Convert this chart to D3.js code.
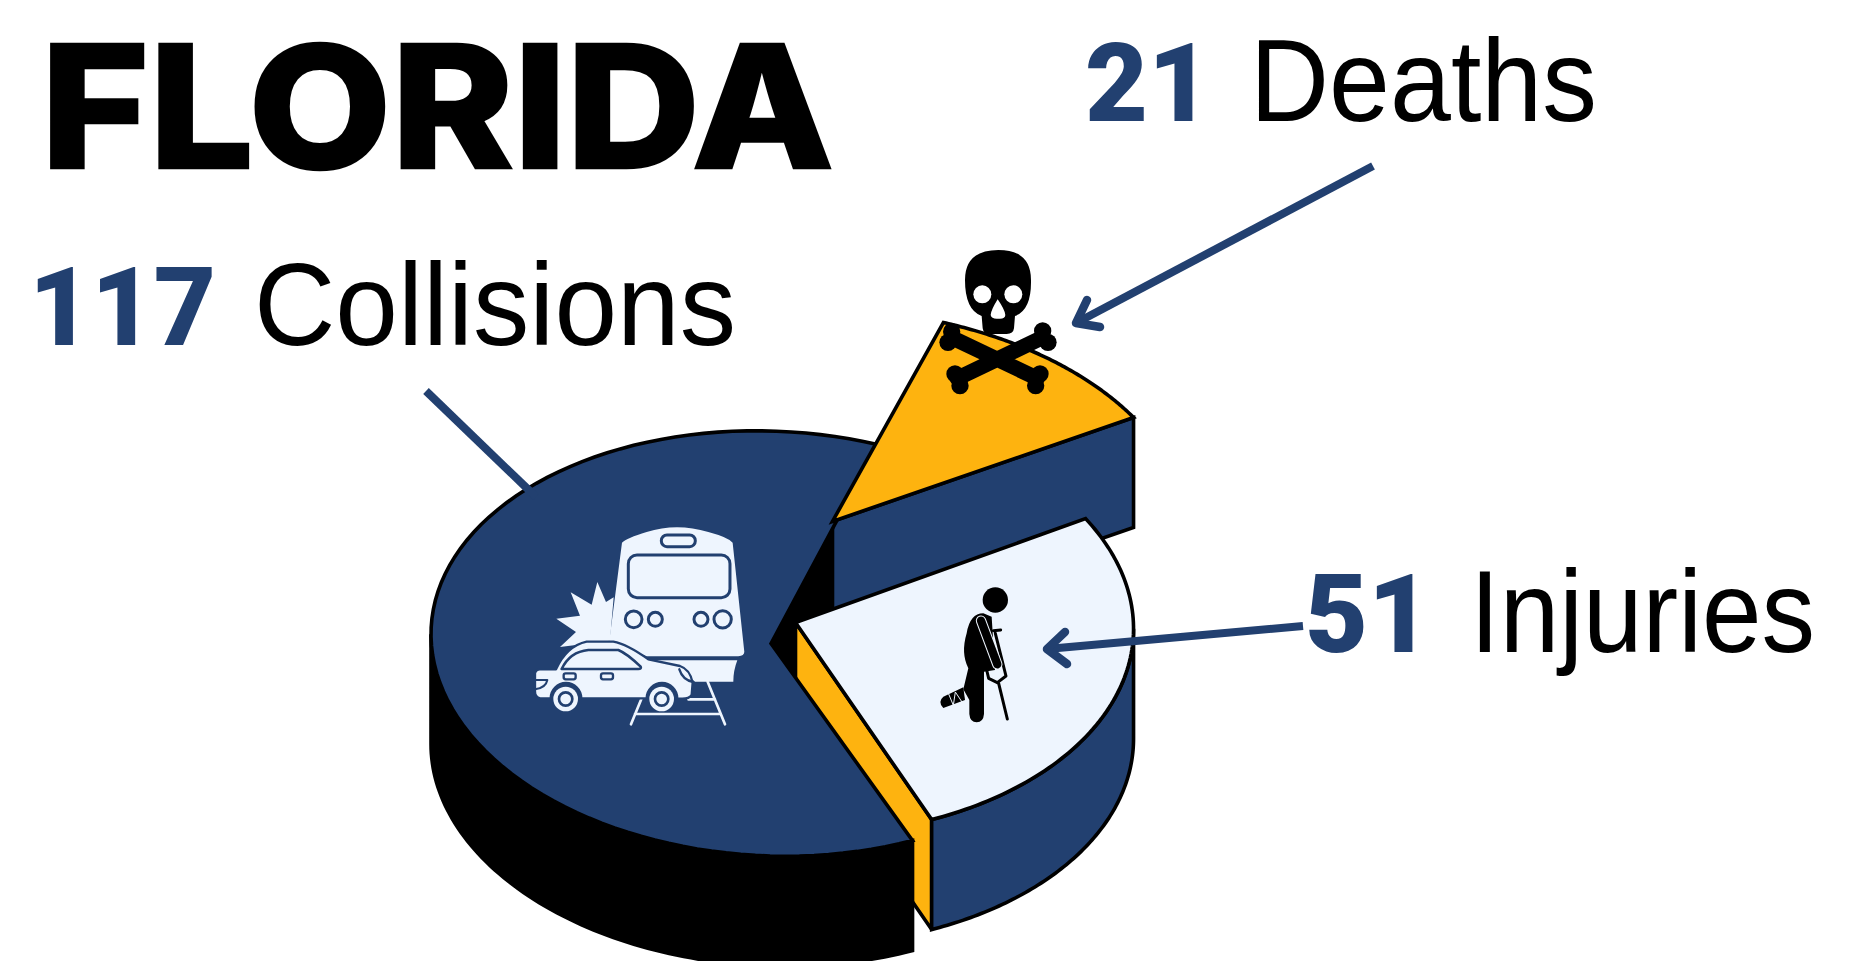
<!DOCTYPE html>
<html>
<head>
<meta charset="utf-8">
<style>
  html, body { margin: 0; padding: 0; background: #fff; overflow: hidden; }
  svg { display: block; }
</style>
<script src="https://cdn.jsdelivr.net/npm/d3@7"></script>
</head>
<body>
<div id="root"></div>
<script>
const title = 'FLORIDA'
const categories = ['Collisions', 'Deaths', 'Injuries']
const counts = [117, 21, 51]

const NAVY = '#224070'
const GOLD = '#FEB30F'
const PALE = '#EEF5FE'
const rad = deg => deg * Math.PI / 180
const TAU = Math.PI * 2

const width = 1867
const height = 961
const depth = 110
const ry = 212.5
const shear = 9.3
const firstAngle = rad(65.4)

// where each slice sits after being pulled out of the pie
const slices = {
  Collisions: { cx: 771, cy: 643.5, rx: 340, lean: 0 },
  Deaths: { cx: 832.5, cy: 521.4, rx: 354, lean: 0 },
  Injuries: { cx: 795.5, cy: 622.5, rx: 338, lean: -5 }
}

const labelBoxes = {
  Collisions: { numX: 29, numW: 187, numY: 345, textX: 254, textW: 482, textY: 345 },
  Deaths: { numX: 1085, numW: 126, numY: 121, textX: 1250, textW: 347, textY: 121 },
  Injuries: { numX: 1305, numW: 126, numY: 651.5, textX: 1470, textW: 345, textY: 651.5 }
}

const svg = d3.select('#root').append('svg')
  .attr('width', width)
  .attr('height', height)
  .attr('viewBox', `0 0 ${width} ${height}`)

const pie = d3.pie()
  .sort(null)
  .startAngle(firstAngle)
  .endAngle(firstAngle + TAU)

const arcs = pie(counts)
const arcOf = name => arcs[categories.indexOf(name)]

// tilted disc: pie angle -> screen position, z pushes down the side of the slice
function project(name, t, z = 0) {
  const s = slices[name]
  return [
    s.cx + s.rx * Math.cos(t) + s.lean * Math.sin(t),
    s.cy + shear * Math.cos(t) + ry * Math.sin(t) + z
  ]
}

function rim(name, from, to, z = 0) {
  const steps = 90
  return d3.range(steps + 1).map(i => project(name, from + (to - from) * i / steps, z))
}

function centre(name, z = 0) {
  return [slices[name].cx, slices[name].cy + z]
}

const outline = d3.line().curve(d3.curveLinear)

function shape(points, fill) {
  return svg.append('path')
    .attr('d', outline(points) + 'Z')
    .attr('fill', fill)
    .attr('stroke', '#000')
    .attr('stroke-width', 3.6)
    .attr('stroke-miterlimit', 3)
}

function topFace(name, fill) {
  const a = arcOf(name)
  return shape([centre(name), ...rim(name, a.startAngle, a.endAngle)], fill)
}

function cutWall(name, t, fill) {
  return shape([
    centre(name),
    project(name, t),
    project(name, t, depth),
    centre(name, depth)
  ], fill)
}

function outerWall(name, from, to, fill) {
  return shape([...rim(name, from, to), ...rim(name, to, from, depth)], fill)
}

const collisions = arcOf('Collisions')
const deaths = arcOf('Deaths')
const injuries = arcOf('Injuries')

// the wall starts at the disc's rightmost point so its edge stays vertical
const rightmost = TAU + Math.atan2(slices.Injuries.lean, slices.Injuries.rx)

cutWall('Collisions', collisions.endAngle, '#000')
cutWall('Deaths', deaths.endAngle, NAVY)
cutWall('Injuries', injuries.endAngle - TAU, GOLD)
outerWall('Collisions', collisions.startAngle, Math.PI, '#000')
topFace('Collisions', NAVY)
topFace('Deaths', GOLD)
outerWall('Injuries', rightmost, injuries.endAngle, NAVY)
topFace('Injuries', PALE)

// ---- leader arrows ----
function leader(from, to, barbs) {
  const g = svg.append('g')
    .attr('fill', 'none')
    .attr('stroke', NAVY)
    .attr('stroke-width', 8)
  g.append('line')
    .attr('x1', from[0]).attr('y1', from[1])
    .attr('x2', to[0]).attr('y2', to[1])
  if (barbs) {
    g.append('path')
      .attr('d', outline([barbs[0], to, barbs[1]]))
      .attr('stroke-width', 8.5)
      .attr('stroke-linecap', 'round')
      .attr('stroke-linejoin', 'round')
  }
}

leader([426, 391], [536, 497])
leader([1373, 166], [1076, 323], [[1087, 300], [1100, 327]])
leader([1303, 626], [1047, 649], [[1065, 632], [1067, 664]])

// ---- titles and labels ----
svg.append('text')
  .attr('x', 41)
  .attr('y', 167.5)
  .style('font-family', 'Inter')
  .style('font-size', '170px')
  .style('font-weight', 800)
  .attr('stroke', '#000')
  .attr('stroke-width', 2.5)
  .attr('textLength', 793)
  .attr('lengthAdjust', 'spacingAndGlyphs')
  .text(title)

categories.forEach((name, i) => {
  const box = labelBoxes[name]
  svg.append('text')
    .attr('x', box.numX)
    .attr('y', box.numY)
    .style('font-family', 'Roboto')
    .style('font-size', '110px')
    .style('font-weight', 900)
    .attr('fill', NAVY)
    .attr('textLength', box.numW)
    .attr('lengthAdjust', 'spacingAndGlyphs')
    .text(counts[i])
  svg.append('text')
    .attr('x', box.textX)
    .attr('y', box.textY)
    .style('font-family', '"Liberation Sans"')
    .style('font-size', '117px')
    .attr('textLength', box.textW)
    .attr('lengthAdjust', 'spacingAndGlyphs')
    .text(name)
})

// ---- icons, drawn in their own small coordinate space ----
function iconPath(g, d, fill, stroke, sw) {
  return g.append('path')
    .attr('d', d)
    .attr('fill', fill || 'none')
    .attr('stroke', stroke || 'none')
    .attr('stroke-width', sw || 0)
    .attr('stroke-linecap', 'round')
    .attr('stroke-linejoin', 'round')
}

function iconCircle(g, x, y, r, fill, stroke, sw) {
  return g.append('circle')
    .attr('cx', x).attr('cy', y).attr('r', r)
    .attr('fill', fill)
    .attr('stroke', stroke || 'none')
    .attr('stroke-width', sw || 0)
}

function iconRect(g, x, y, w, h, rx, stroke, sw) {
  return g.append('rect')
    .attr('x', x).attr('y', y).attr('width', w).attr('height', h).attr('rx', rx)
    .attr('fill', 'none')
    .attr('stroke', stroke)
    .attr('stroke-width', sw)
}

function drawTrainCrash() {
  const g = svg.append('g').attr('transform', 'translate(520,510) scale(0.3333)')
  // burst
  iconPath(g, 'M120 411 L168 366 L109 326 L180 317 L152 247 L215 284 L232 216 L258 276 L281 262 L270 392 Z', PALE)
  // train front
  iconPath(g, 'M306 98 Q320 84 380 66 Q470 38 565 66 Q625 82 638 98 L673 425 Q673 437 655 439 L380 439 L268 392 Z', PALE)
  iconPath(g, 'M385 451 L652 451 Q640 482 640 515 L525 515 L470 470 Z', PALE)
  iconRect(g, 325, 135, 305, 128, 26, NAVY, 9)
  iconRect(g, 424, 75, 102, 35, 17, NAVY, 9)
  iconCircle(g, 341, 328, 25, 'none', NAVY, 9)
  iconCircle(g, 406, 328, 21, 'none', NAVY, 9)
  iconCircle(g, 543, 328, 21, 'none', NAVY, 9)
  iconCircle(g, 608, 328, 26, 'none', NAVY, 9)
  // rails
  iconPath(g, 'M365 565 L333 643 M563 515 L615 643 M345 612 L600 612 M505 568 L585 568', 'none', PALE, 8)
  // car
  iconPath(g, 'M60 478 L108 478 Q140 408 200 395 L280 395 Q320 402 385 448 L480 468 Q510 478 518 518 L515 555 Q505 570 472 565 A46 46 0 0 0 380 565 L184 565 A46 46 0 0 0 92 565 L60 565 Q45 560 45 545 L45 490 Q48 478 60 478 Z', PALE, NAVY, 7)
  iconPath(g, 'M125 477 Q150 425 205 420 L295 420 Q320 430 362 470 Q365 477 355 477 Z', 'none', NAVY, 8)
  iconRect(g, 131, 490, 36, 18, 6, NAVY, 7)
  iconRect(g, 243, 490, 36, 18, 6, NAVY, 7)
  iconPath(g, 'M478 478 Q488 510 520 516', 'none', NAVY, 7)
  iconPath(g, 'M45 510 L82 510 Q78 533 45 538', 'none', NAVY, 6)
  ;[[137, 567], [425, 567]].forEach(p => {
    iconCircle(g, p[0], p[1], 37, PALE)
    iconCircle(g, p[0], p[1], 20, PALE, NAVY, 8)
  })
}

function drawSkull() {
  const g = svg.append('g').attr('transform', 'translate(920,230) scale(0.3333)')
  iconPath(g, 'M235 60 Q135 60 135 150 Q135 240 185 258 L188 295 Q190 312 210 312 L260 312 Q280 312 282 295 L285 258 Q335 240 333 150 Q333 60 235 60 Z', '#000')
  iconCircle(g, 187, 193, 27, '#fff')
  iconCircle(g, 280, 193, 27, '#fff')
  iconPath(g, 'M233 208 Q213 240 212 255 Q215 268 235 266 Q255 268 256 255 Q255 240 233 208 Z', '#fff')
  iconPath(g, 'M100 325 L352 445 M362 325 L112 445', 'none', '#000', 46)
  ;[[95, 305], [84, 337], [360, 432], [347, 467], [105, 432], [120, 467], [368, 303], [384, 337]].forEach(p => {
    iconCircle(g, p[0], p[1], 26, '#000')
  })
}

function drawCrutchFigure() {
  const g = svg.append('g').attr('transform', 'translate(920,570) scale(0.3333)')
  iconCircle(g, 226, 90, 38, '#000')
  iconPath(g, 'M190 130 Q150 130 140 190 Q122 250 145 295 L130 358 L148 390 L148 432 Q150 457 170 457 Q190 457 192 432 L192 305 L225 300 L215 140 Z', '#000')
  iconPath(g, 'M130 352 L70 380 Q52 395 70 414 L135 390 Z', '#000')
  iconPath(g, 'M86 372 L100 406 L106 366 L126 396', 'none', PALE, 3)
  // crutch
  iconPath(g, 'M220 182 L242 180 M226 190 L258 318 L232 338 L206 325 L200 300 M236 340 L262 447', 'none', '#000', 9)
  // arm in a sling
  iconPath(g, 'M183 152 L232 283', 'none', PALE, 31)
  iconPath(g, 'M183 152 L232 283', 'none', '#000', 25)
}

drawTrainCrash()
drawSkull()
drawCrutchFigure()
</script>
</body>
</html>
